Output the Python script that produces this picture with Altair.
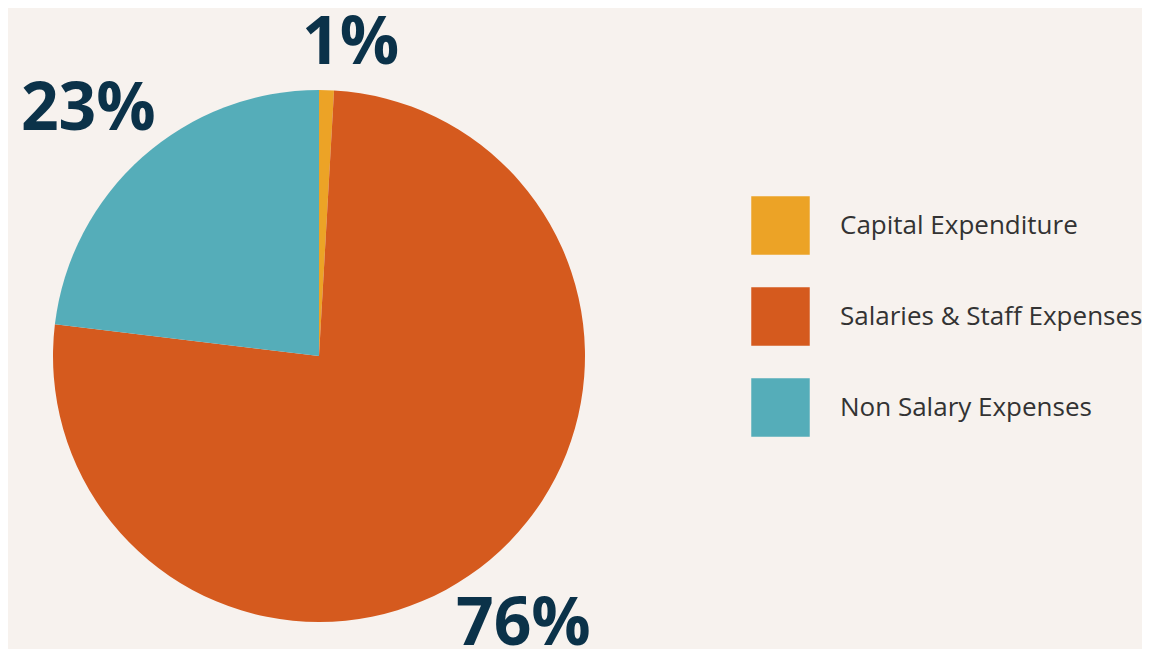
import altair as alt
import pandas as pd

categories = ["Capital Expenditure", "Salaries & Staff Expenses", "Non Salary Expenses"]
values = [0.9, 76.0, 23.1]
labels = ["1%", "76%", "23%"]
colors = ["#eca326", "#d55a1e", "#55adb9"]

df = pd.DataFrame({
    "category": categories,
    "value": values,
    "label": labels,
    "idx": list(range(len(categories))),
})

CX, CY = 311, 348

base = alt.Chart(df).encode(
    theta=alt.Theta("value:Q", stack=True),
    order=alt.Order("idx:Q"),
    x=alt.value(CX),
    y=alt.value(CY),
)

pie = base.mark_arc(radius=266, stroke=None).encode(
    color=alt.Color(
        "category:N",
        sort=categories,
        scale=alt.Scale(domain=categories, range=colors),
        legend=alt.Legend(
            orient="none", legendX=743, legendY=188, title=None,
            symbolType="square", symbolSize=3420, symbolStrokeWidth=0,
            labelFontSize=26, labelFont="Open Sans", labelColor="#333333",
            rowPadding=32, labelOffset=30, padding=0, labelLimit=400,
        ),
    )
)


def label_layer(which, dx, dy):
    return base.transform_calculate(
        shown=f"datum.label == '{which}' ? datum.label : ''"
    ).mark_text(
        radius=340, dx=dx, dy=dy, font="Open Sans", fontWeight="bold",
        fontSize=66, color="#0b3249", align="center", baseline="middle",
    ).encode(text="shown:N")


chart = alt.layer(
    pie,
    label_layer("1%", 22, 28),
    label_layer("23%", -5, 8),
    label_layer("76%", -14, 8),
).properties(
    width=1134, height=641,
    autosize=alt.AutoSizeParams(type="none"),
    padding=0,
    background="#f7f2ee",
).configure_view(stroke=None)

chart.save("out.html", embed_options={"renderer": "svg", "actions": False})
